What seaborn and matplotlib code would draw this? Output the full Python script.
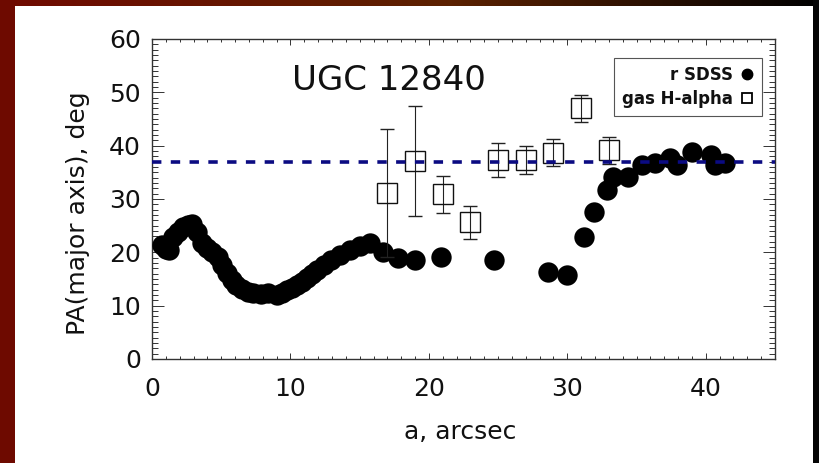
import numpy as np
import matplotlib
matplotlib.use("Agg")
import matplotlib.pyplot as plt
from matplotlib.lines import Line2D
from matplotlib.patches import Rectangle
from matplotlib.ticker import MultipleLocator
import seaborn as sns

# r-band SDSS isophote position angles
sdss_a = [0.7, 1.0, 1.2, 1.55, 1.9, 2.26, 2.6, 2.87, 3.23, 3.59, 3.95, 4.31, 4.79, 5.03,
          5.4, 5.76, 6.1, 6.48, 6.9, 7.32, 7.85, 8.4, 9.0, 9.4, 9.73, 10.1, 10.45, 10.8,
          11.2, 11.55, 11.9, 12.4, 12.9, 13.6, 14.3, 15.0, 15.75, 16.7, 17.8, 19.0,
          20.9, 24.7, 28.6, 30.0, 31.2, 31.9, 32.85, 33.3, 34.4, 35.4, 36.3, 37.4,
          37.9, 39.0, 40.4, 40.7, 41.4]
sdss_pa = [21.4, 20.6, 20.4, 22.8, 23.9, 24.8, 25.1, 25.4, 23.9, 21.7, 20.8, 20.1, 19.2,
           17.6, 16.2, 14.8, 13.8, 13.2, 12.6, 12.3, 12.2, 12.3, 12.0, 12.3, 12.9, 13.4,
           13.9, 14.5, 15.1, 15.9, 16.7, 17.7, 18.6, 19.5, 20.4, 21.1, 21.7, 20.1, 18.9,
           18.6, 19.2, 18.6, 16.4, 15.75, 22.9, 27.6, 31.7, 34.2, 34.2, 36.4, 36.7,
           37.6, 36.4, 38.9, 38.3, 36.4, 36.7]

# H-alpha gas kinematic position angles with errors
gas_a = [17.0, 19.0, 21.0, 23.0, 25.0, 27.0, 29.0, 31.0, 33.0]
gas_pa = [31.2, 37.1, 30.9, 25.6, 37.3, 37.3, 38.7, 47.0, 39.1]
gas_err = [12.0, 10.3, 3.5, 3.1, 3.2, 2.6, 2.6, 2.5, 2.6]

pa_global = 37.0
title = "UGC 12840"

sns.set_style("ticks")
plt.rcParams["font.family"] = ["DejaVu Sans"]

W, H = 819, 463
fig = plt.figure(figsize=(W / 100, H / 100), dpi=100)
fig.patch.set_facecolor("white")

# frame decoration around the slide
fig.patches.append(Rectangle((0, 0), 15 / W, 1, transform=fig.transFigure,
                             facecolor="#6e0a00", edgecolor="none", zorder=0))
fig.patches.append(Rectangle((813 / W, 0), 6 / W, 1, transform=fig.transFigure,
                             facecolor="#050505", edgecolor="none", zorder=0))
top = fig.add_axes([0, 1 - 6 / H, 1, 6 / H])
t = np.linspace(0, 1, 400)
c0 = np.array([0.44, 0.04, 0.0])
c1 = np.array([0.36, 0.13, 0.0])
c2 = np.array([0.0, 0.0, 0.0])
grad = np.where(t[:, None] < 0.55,
                c0 + (c1 - c0) * (t[:, None] / 0.55),
                c1 + (c2 - c1) * ((t[:, None] - 0.55) / 0.45))
top.imshow(grad[None, :, :], aspect="auto", extent=[0, 1, 0, 1])
top.set_axis_off()

ax = fig.add_axes([152 / W, 1 - 359 / H, 623 / W, 320 / H])

sns.scatterplot(x=sdss_a, y=sdss_pa, ax=ax, color="black", s=215,
                linewidth=0, marker="o", zorder=3, legend=False)

ax.errorbar(gas_a, gas_pa, yerr=gas_err, fmt="s", ms=15, mfc="none",
            mec="#111111", mew=1.0, ecolor="#222222", elinewidth=0.8,
            capsize=4.7, capthick=0.8, zorder=4)

dash = ax.axhline(pa_global, color="#0b0b82", lw=2.6, zorder=5)
dash.set_dashes((2.6, 2.6))

ax.set_xlim(0, 45)
ax.set_ylim(0, 60)
ax.xaxis.set_major_locator(MultipleLocator(10))
ax.xaxis.set_minor_locator(MultipleLocator(1))
ax.yaxis.set_major_locator(MultipleLocator(10))
ax.yaxis.set_minor_locator(MultipleLocator(1))

for s in ax.spines.values():
    s.set_color("#333333")
    s.set_linewidth(1.0)
    s.set_visible(True)

ax.tick_params(which="both", direction="in", top=True, right=True,
               color="#333333", width=0.7, labelcolor="#111111")
ax.tick_params(axis="x", which="major", length=4.6, pad=13, labelsize=18)
ax.tick_params(axis="x", which="minor", length=2.3)
ax.tick_params(axis="y", which="major", length=8.6, pad=8, labelsize=18)
ax.tick_params(axis="y", which="minor", length=4.3)

ax.set_xlabel("a, arcsec", fontsize=18, color="#111111")
ax.set_ylabel("PA(major axis), deg", fontsize=18, color="#111111")
ax.xaxis.set_label_coords(0.494, -0.19)
ax.yaxis.set_label_coords(-0.1, 0.456)

ax.text(17.1, 52.2, title, fontsize=24.5, ha="center", va="center", color="#111111")

handles = [
    Line2D([], [], ls="none", marker="o", ms=7.5, mfc="black", mec="black"),
    Line2D([], [], ls="none", marker="s", ms=7, mfc="none", mec="black", mew=1.3),
]
leg = ax.legend(handles, ["r SDSS", "gas H-alpha"], loc="upper right",
                bbox_to_anchor=(0.979, 0.941), borderaxespad=0,
                markerfirst=False, handlelength=0.8, handletextpad=0.45,
                borderpad=0.5, labelspacing=0.35, fancybox=False,
                framealpha=1, edgecolor="#555555",
                prop={"size": 12, "weight": "bold"})
leg.get_frame().set_linewidth(0.8)
for txt in leg.get_texts():
    txt.set_color("#111111")

fig.savefig("out.png", dpi=100, facecolor=fig.get_facecolor())
